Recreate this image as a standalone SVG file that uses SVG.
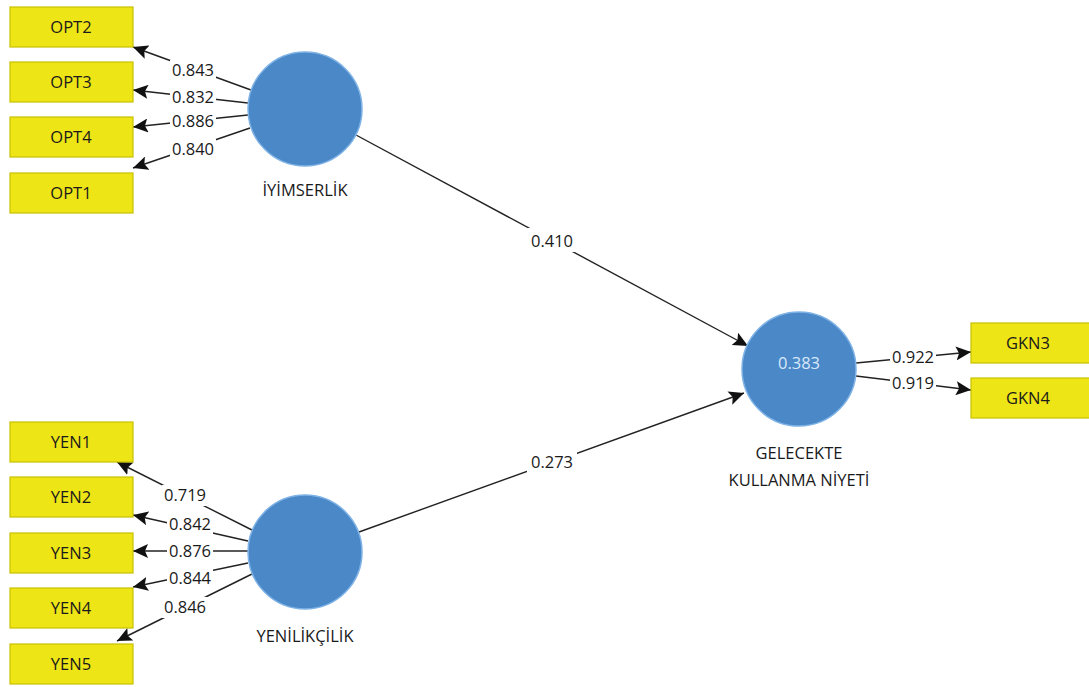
<svg xmlns="http://www.w3.org/2000/svg" width="1089" height="687" viewBox="0 0 1089 687">
  <style>
    .ind rect { fill: #EEE517; stroke: #C9C000; stroke-width: 1.2; }
    .ind text, .lbl text, .name { font-family: "Open Sans", "Noto Sans", sans-serif; font-size: 16.5px; fill: #1a1a1a; text-anchor: middle; }
    .lbl rect { fill: #fff; }
    .lv circle { fill: #4A88C8; stroke: #7FB3E6; stroke-width: 1.5; }
    .r2 { font-family: "Open Sans", "Noto Sans", sans-serif; font-size: 16.5px; fill: #D8E8F8; text-anchor: middle; }
    .edge { stroke: #222; stroke-width: 1.4; fill: none; marker-end: url(#arr); }
  </style>
  <defs>
    <marker id="arr" markerUnits="userSpaceOnUse" markerWidth="16" markerHeight="14" refX="15" refY="7" orient="auto">
      <path d="M0,0 L15,7 L0,14 L3,7 z" fill="#111"/>
    </marker>
  </defs>
  <rect width="1089" height="687" fill="#fff"/>

  <!-- connectors -->
  <g id="connectors">
    <!-- İYİMSERLİK outer loadings -->
    <line class="edge" x1="251" y1="90" x2="133" y2="47"/>
    <line class="edge" x1="248" y1="103" x2="133" y2="90"/>
    <line class="edge" x1="248" y1="115" x2="133" y2="127"/>
    <line class="edge" x1="250" y1="128" x2="133" y2="168"/>
    <!-- YENİLİKÇİLİK outer loadings -->
    <line class="edge" x1="252" y1="530" x2="117" y2="462"/>
    <line class="edge" x1="248" y1="541" x2="133" y2="515"/>
    <line class="edge" x1="248" y1="551" x2="133" y2="551"/>
    <line class="edge" x1="248" y1="563" x2="133" y2="587"/>
    <line class="edge" x1="252" y1="574" x2="117" y2="641"/>
    <!-- GELECEKTE KULLANMA NİYETİ outer loadings -->
    <line class="edge" x1="856" y1="363" x2="971" y2="352"/>
    <line class="edge" x1="856" y1="376" x2="971" y2="390"/>
    <!-- structural paths -->
    <line class="edge" x1="356" y1="135" x2="748" y2="346"/>
    <line class="edge" x1="359" y1="532" x2="744" y2="393"/>

    <!-- path coefficients / loadings on white plates -->
    <g class="lbl"><rect x="170" y="60" width="46" height="21"/><text x="193" y="76">0.843</text></g>
    <g class="lbl"><rect x="170" y="87" width="46" height="21"/><text x="193" y="103">0.832</text></g>
    <g class="lbl"><rect x="170" y="111" width="46" height="21"/><text x="193" y="127">0.886</text></g>
    <g class="lbl"><rect x="170" y="139" width="46" height="21"/><text x="193" y="155">0.840</text></g>

    <g class="lbl"><rect x="162" y="485" width="46" height="21"/><text x="185" y="501">0.719</text></g>
    <g class="lbl"><rect x="167" y="514" width="46" height="21"/><text x="190" y="530">0.842</text></g>
    <g class="lbl"><rect x="167" y="541" width="46" height="21"/><text x="190" y="557">0.876</text></g>
    <g class="lbl"><rect x="167" y="568" width="46" height="21"/><text x="190" y="584">0.844</text></g>
    <g class="lbl"><rect x="162" y="597" width="46" height="21"/><text x="185" y="613">0.846</text></g>

    <g class="lbl"><rect x="890" y="347" width="46" height="21"/><text x="913" y="363">0.922</text></g>
    <g class="lbl"><rect x="890" y="373" width="46" height="21"/><text x="913" y="389">0.919</text></g>

    <g class="lbl"><rect x="527" y="228" width="50" height="24"/><text x="552" y="247">0.410</text></g>
    <g class="lbl"><rect x="527" y="449" width="50" height="24"/><text x="552" y="468">0.273</text></g>
  </g>

  <!-- indicators -->
  <g id="OPT2" class="ind"><rect x="10" y="7" width="123" height="40"/><text x="71" y="33">OPT2</text></g>
  <g id="OPT3" class="ind"><rect x="10" y="62" width="123" height="40"/><text x="71" y="88">OPT3</text></g>
  <g id="OPT4" class="ind"><rect x="10" y="117" width="123" height="40"/><text x="71" y="143">OPT4</text></g>
  <g id="OPT1" class="ind"><rect x="10" y="173" width="123" height="40"/><text x="71" y="199">OPT1</text></g>

  <g id="YEN1" class="ind"><rect x="10" y="422" width="123" height="40"/><text x="71" y="448">YEN1</text></g>
  <g id="YEN2" class="ind"><rect x="10" y="477" width="123" height="40"/><text x="71" y="503">YEN2</text></g>
  <g id="YEN3" class="ind"><rect x="10" y="533" width="123" height="40"/><text x="71" y="559">YEN3</text></g>
  <g id="YEN4" class="ind"><rect x="10" y="588" width="123" height="40"/><text x="71" y="614">YEN4</text></g>
  <g id="YEN5" class="ind"><rect x="10" y="644" width="123" height="40"/><text x="71" y="670">YEN5</text></g>

  <g id="GKN3" class="ind"><rect x="971" y="323" width="123" height="40"/><text x="1028" y="349">GKN3</text></g>
  <g id="GKN4" class="ind"><rect x="971" y="378" width="123" height="40"/><text x="1028" y="404">GKN4</text></g>

  <!-- latent variables -->
  <g id="IYIMSERLIK" class="lv">
    <circle cx="305" cy="109" r="57"/>
    <text class="name" x="305" y="196">İYİMSERLİK</text>
  </g>
  <g id="YENILIKCILIK" class="lv">
    <circle cx="305" cy="552" r="57"/>
    <text class="name" x="305" y="642">YENİLİKÇİLİK</text>
  </g>
  <g id="GKN" class="lv">
    <circle cx="799" cy="369" r="57"/>
    <text class="r2" x="799" y="369">0.383</text>
    <text class="name" x="799" y="459">GELECEKTE</text>
    <text class="name" x="799" y="486">KULLANMA NİYETİ</text>
  </g>
</svg>
